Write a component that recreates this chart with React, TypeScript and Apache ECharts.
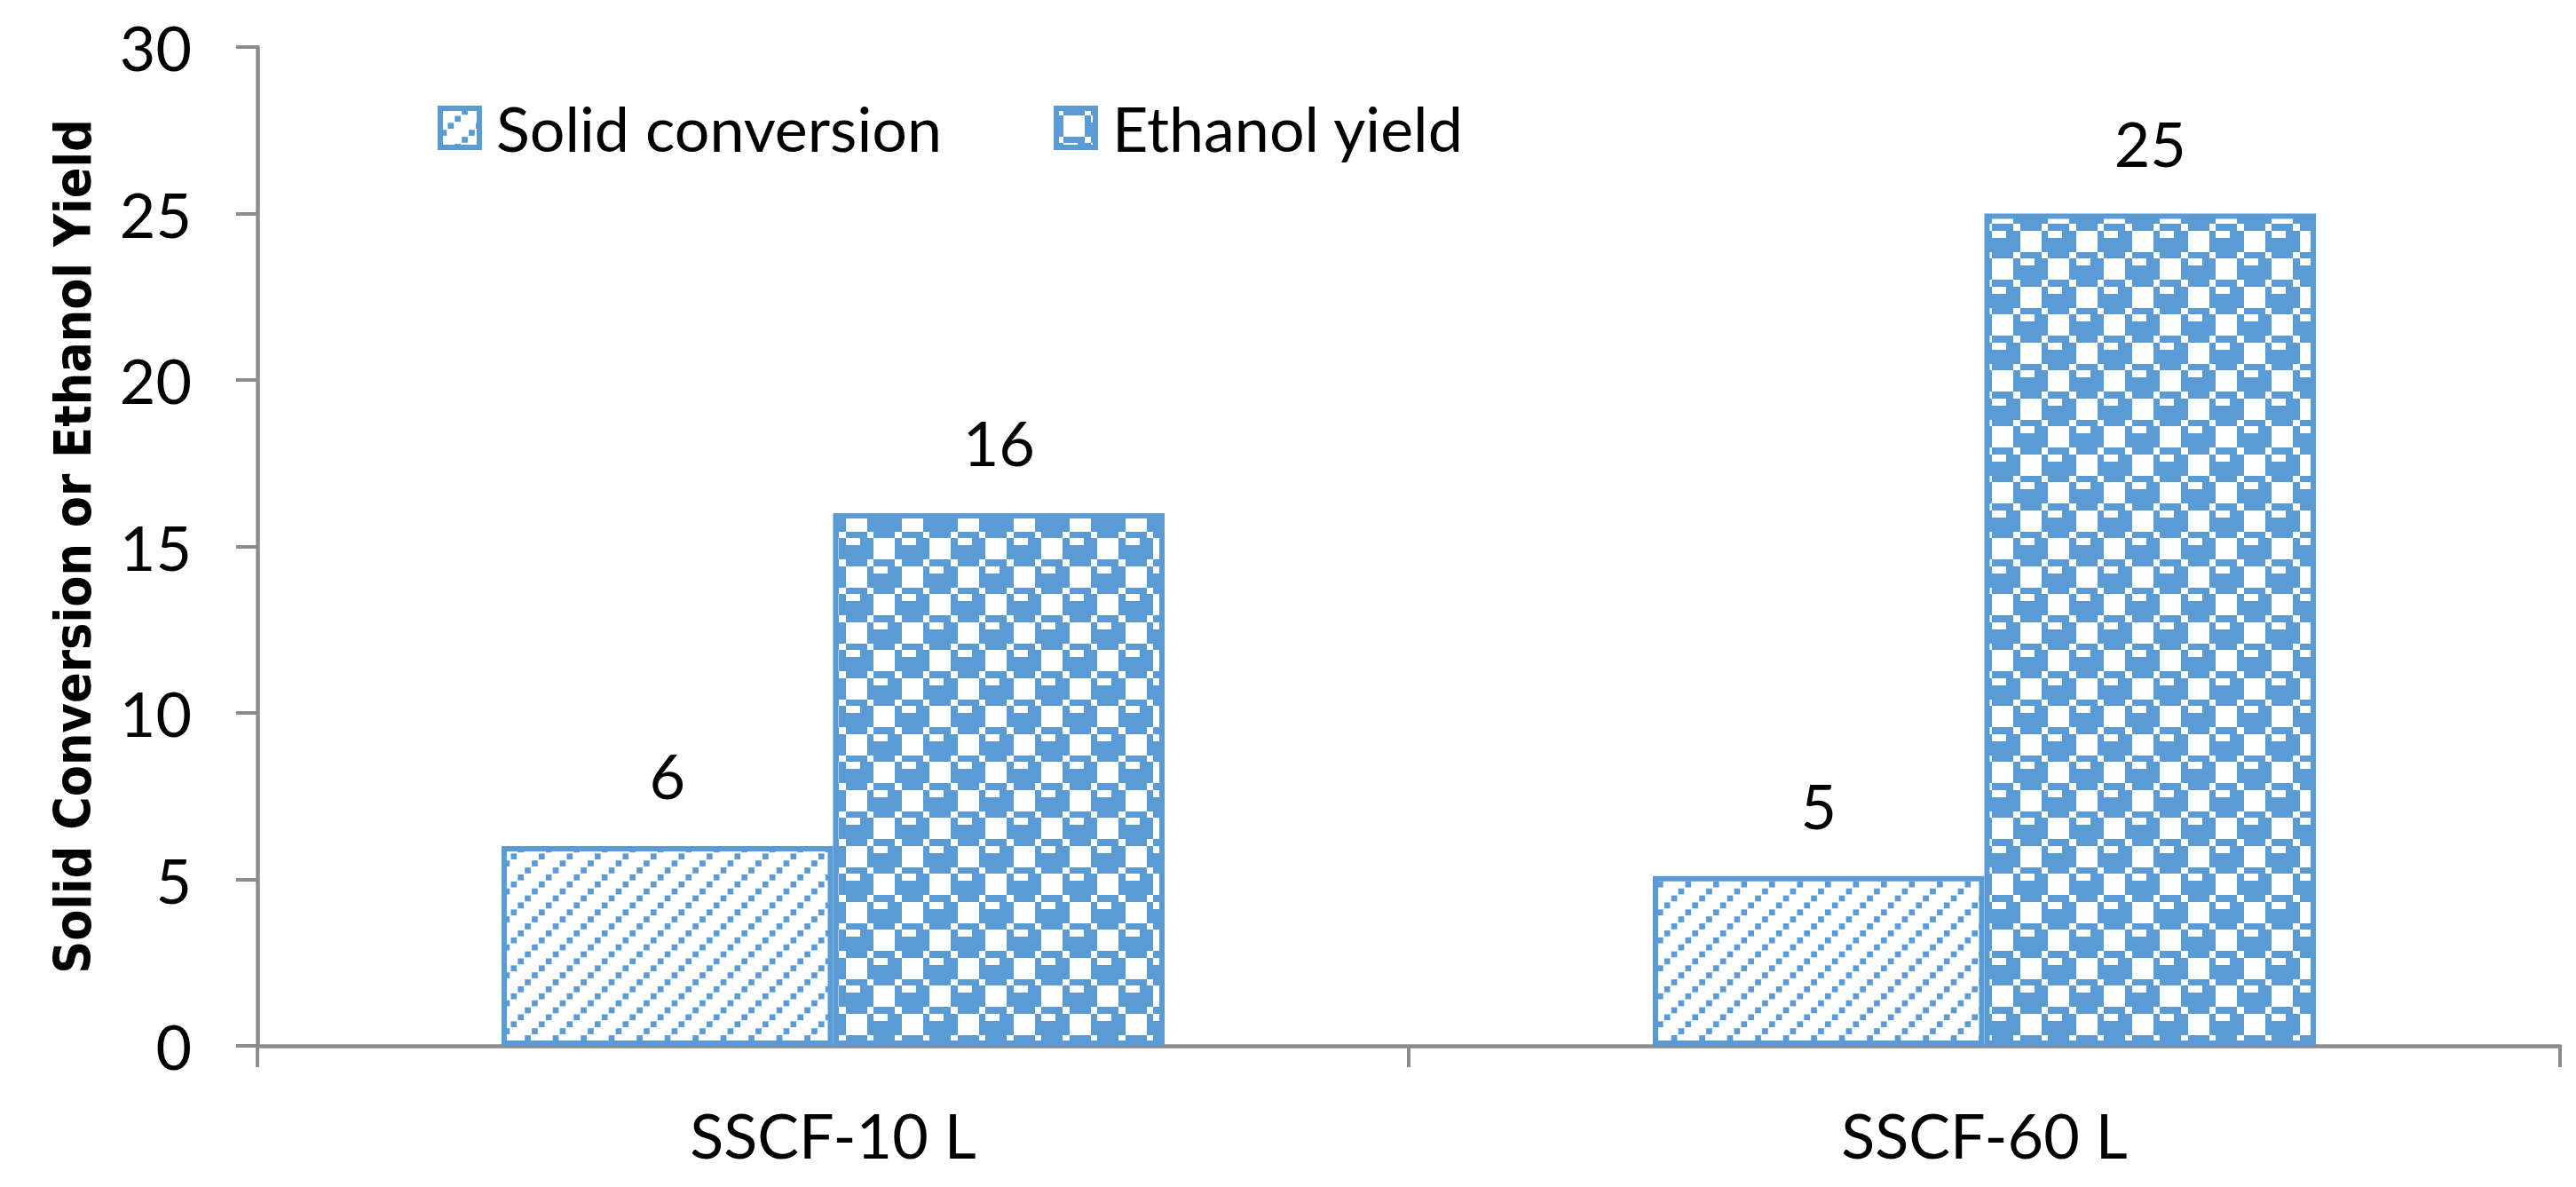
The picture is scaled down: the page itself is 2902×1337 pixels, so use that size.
import React, { useEffect, useRef } from "react";
import * as echarts from "echarts";

const categories = ["SSCF-10 L", "SSCF-60 L"];
const solidConversion = [6, 5.1];
const ethanolYield = [16, 25];
const seriesNames = ["Solid conversion", "Ethanol yield"];
const yTitle = "Solid Conversion or Ethanol Yield";

const BLUE = "#5B9BD5";
const AXIS = "#8C8C8C";

// 8x8 bitmaps of the fill patterns (1 = blue)
const spherePattern = [
  [0, 1, 1, 1, 0, 1, 1, 1],
  [1, 0, 0, 0, 1, 0, 0, 1],
  [1, 0, 0, 0, 1, 1, 1, 1],
  [1, 0, 0, 0, 1, 1, 1, 1],
  [0, 1, 1, 1, 0, 1, 1, 1],
  [1, 0, 0, 1, 1, 0, 0, 0],
  [1, 1, 1, 1, 1, 0, 0, 0],
  [1, 1, 1, 1, 1, 0, 0, 0],
];

function makeSphereTile(size: number) {
  const cv = document.createElement("canvas");
  cv.width = size;
  cv.height = size;
  const ctx = cv.getContext("2d")!;
  ctx.fillStyle = "#ffffff";
  ctx.fillRect(0, 0, size, size);
  ctx.fillStyle = BLUE;
  const n = spherePattern.length;
  const p = size / n;
  for (let r = 0; r < n; r++) {
    for (let c = 0; c < n; c++) {
      if (spherePattern[r][c]) {
        const x0 = Math.round(c * p);
        const x1 = Math.round((c + 1) * p);
        const y0 = Math.round(r * p);
        const y1 = Math.round((r + 1) * p);
        ctx.fillRect(x0, y0, x1 - x0, y1 - y0);
      }
    }
  }
  return cv;
}

function makeDiagTile(size: number) {
  const cv = document.createElement("canvas");
  cv.width = size;
  cv.height = size;
  const ctx = cv.getContext("2d")!;
  ctx.fillStyle = "#ffffff";
  ctx.fillRect(0, 0, size, size);
  ctx.fillStyle = BLUE;
  const n = 8;
  const p = size / n;
  for (let r = 0; r < n; r++) {
    for (let c = 0; c < n; c++) {
      if ((r + c) % 4 === 3) {
        ctx.fillRect(c * p + 0.6, r * p + 0.6, p - 1.2, p - 1.2);
      }
    }
  }
  return cv;
}

export default function App() {
  const ref = useRef<HTMLDivElement>(null);

  useEffect(() => {
    if (!ref.current) return;
    const chart = echarts.init(ref.current, undefined, { renderer: "svg" });
    const diag = makeDiagTile(63);
    const sphere = makeSphereTile(63);

    const labelStyle = {
      show: true,
      position: "top" as const,
      distance: 45,
      fontFamily: "Lato",
      fontSize: 70,
      color: "#000",
      formatter: (p: any) => String(Math.round(p.value)),
    };

    const legendCommon = {
      top: 104,
      itemWidth: 44,
      itemHeight: 44,
      icon: "rect",
      selectedMode: false,
      itemStyle: { borderWidth: 6, borderColor: BLUE },
      textStyle: {
        fontFamily: "Lato",
        fontSize: 70,
        color: "#000",
        padding: [0, 0, 0, 14],
      },
    };

    chart.setOption({
      animation: false,
      backgroundColor: "#ffffff",
      grid: { left: 290, right: 18, top: 53, bottom: 159, containLabel: false },
      legend: [
        { ...legendCommon, left: 488, data: [seriesNames[0]] },
        { ...legendCommon, left: 1182, data: [seriesNames[1]] },
      ],
      xAxis: {
        type: "category",
        data: categories,
        axisLine: { show: true, lineStyle: { color: AXIS, width: 4.5 } },
        axisTick: {
          show: true,
          alignWithLabel: false,
          length: 24,
          lineStyle: { color: AXIS, width: 4 },
        },
        axisLabel: {
          fontFamily: "Lato",
          fontSize: 70,
          color: "#000",
          margin: 65,
        },
        splitLine: { show: false },
      },
      yAxis: {
        type: "value",
        min: 0,
        max: 30,
        interval: 5,
        name: yTitle,
        nameLocation: "middle",
        nameRotate: 90,
        nameGap: 180,
        nameTextStyle: {
          fontFamily: '"DejaVu Sans Condensed", "DejaVu Sans", sans-serif',
          fontWeight: "bold",
          fontSize: 57,
          color: "#000",
        },
        axisLine: { show: true, lineStyle: { color: AXIS, width: 4.5 } },
        axisTick: { show: true, length: 24, lineStyle: { color: AXIS, width: 4 } },
        axisLabel: {
          fontFamily: "Lato",
          fontSize: 70,
          color: "#000",
          margin: 74,
        },
        splitLine: { show: false },
      },
      series: [
        {
          name: seriesNames[0],
          type: "bar",
          data: solidConversion,
          barWidth: "28.8%",
          barGap: "0%",
          itemStyle: {
            color: { image: diag, repeat: "repeat", imageWidth: 63, imageHeight: 63 },
            borderColor: BLUE,
            borderWidth: 6,
          },
          label: labelStyle,
        },
        {
          name: seriesNames[1],
          type: "bar",
          data: ethanolYield,
          barWidth: "28.8%",
          barGap: "0%",
          itemStyle: {
            color: { image: sphere, repeat: "repeat", imageWidth: 63, imageHeight: 63 },
            borderColor: BLUE,
            borderWidth: 6,
          },
          label: labelStyle,
        },
      ],
    });

    return () => {
      chart.dispose();
    };
  }, []);

  return (
    <div
      ref={ref}
      style={{ position: "fixed", left: 0, top: 0, width: 2902, height: 1337, background: "#fff" }}
    />
  );
}
